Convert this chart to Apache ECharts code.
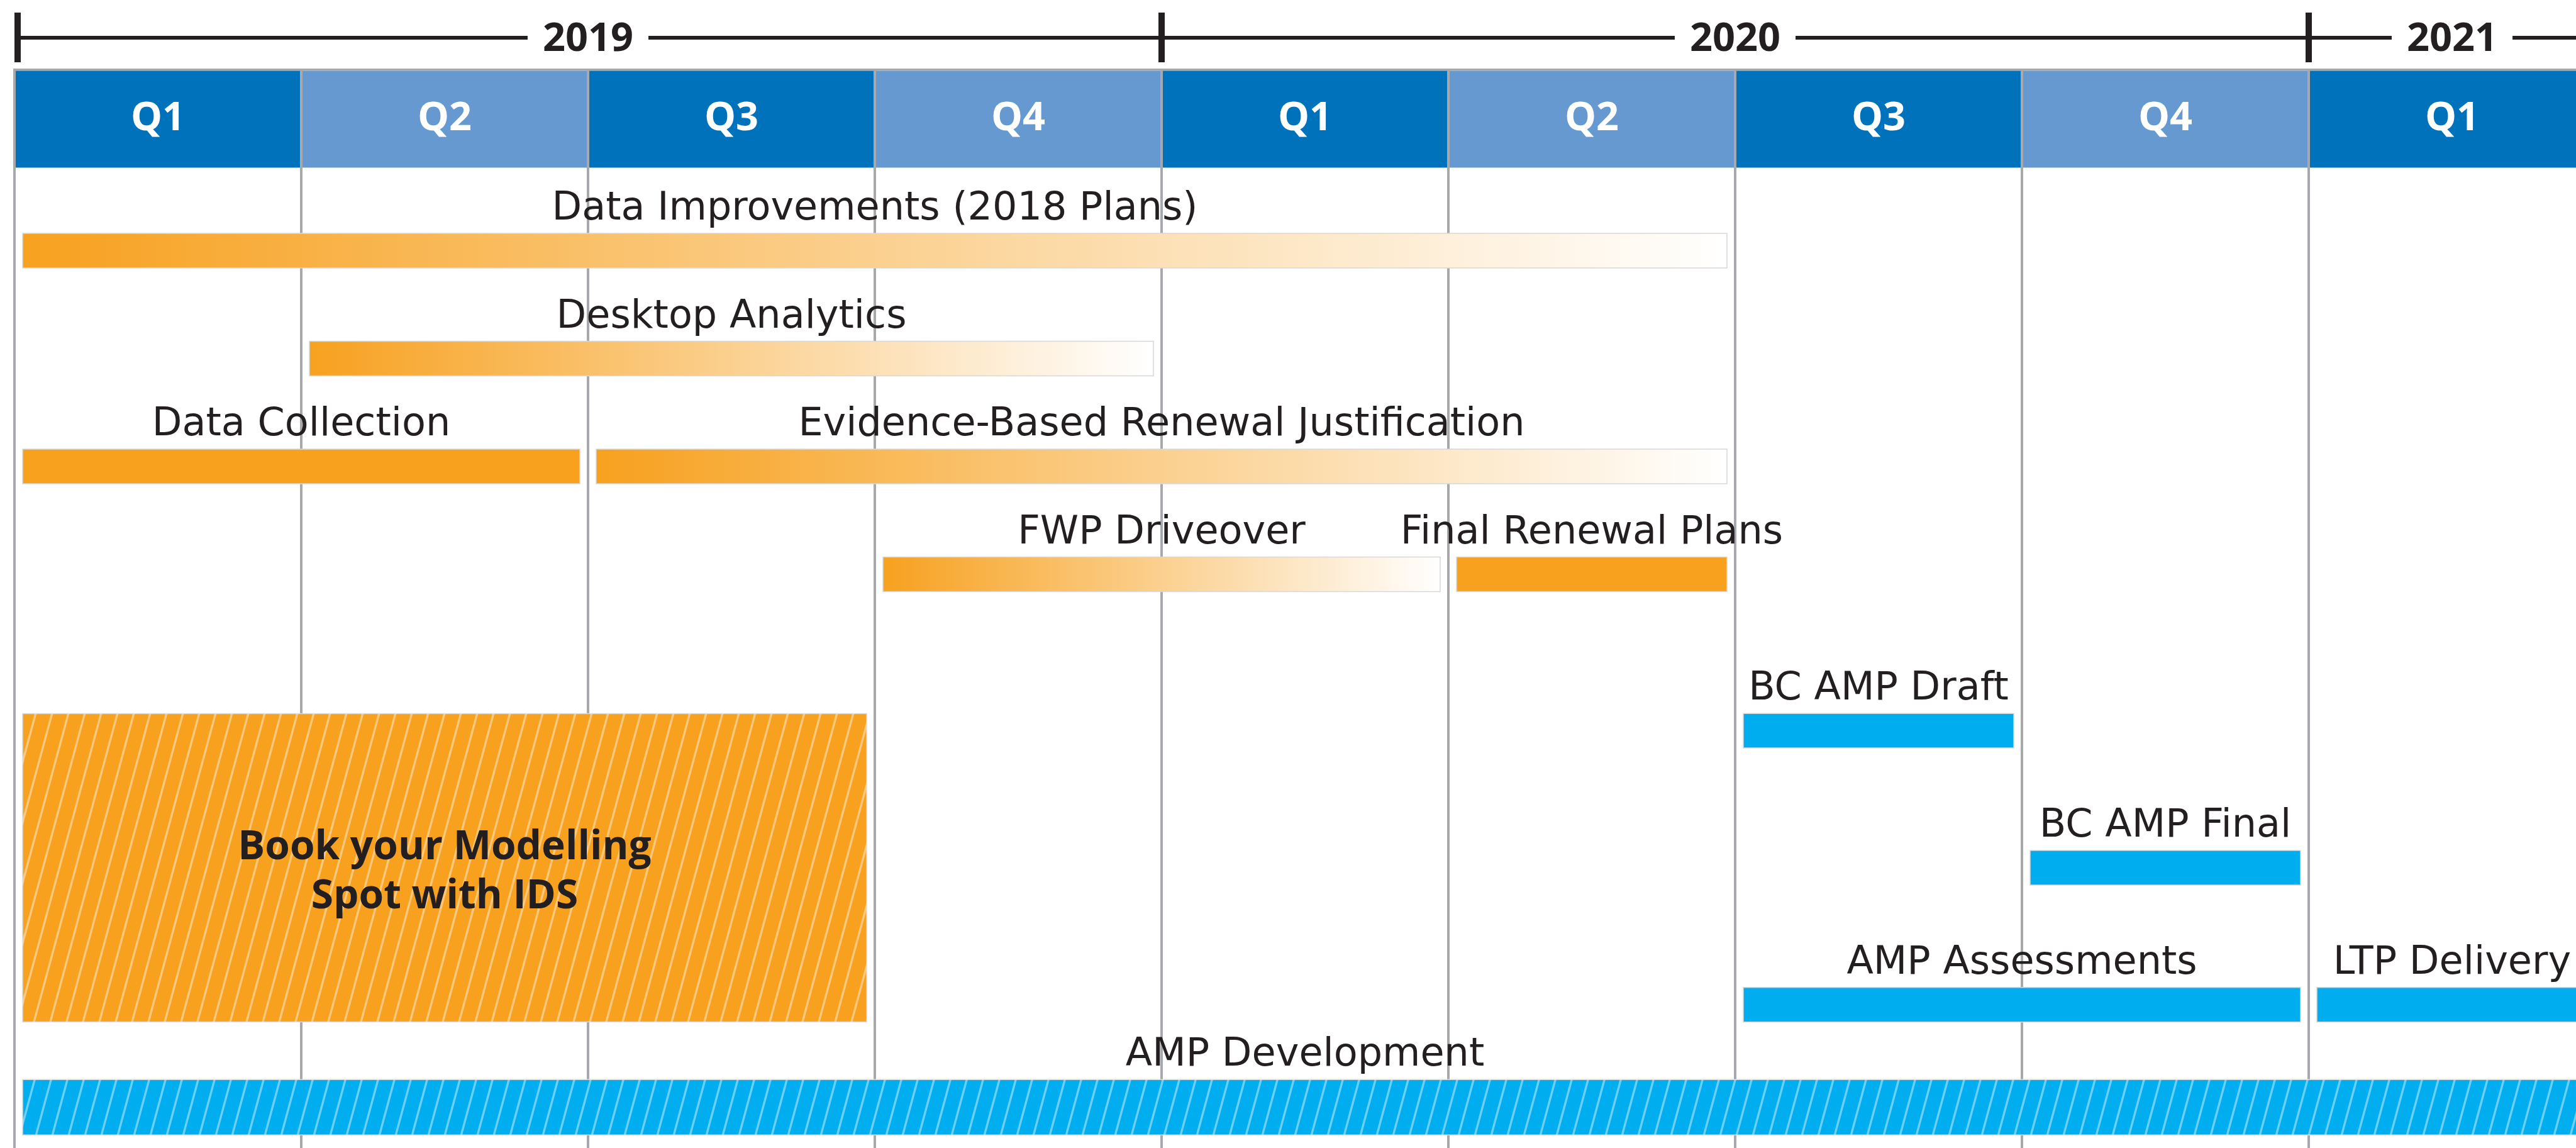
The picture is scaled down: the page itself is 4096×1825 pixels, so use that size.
<!DOCTYPE html>
<html>
<head>
<meta charset="utf-8">
<title>Roadmap</title>
<script src="https://cdn.jsdelivr.net/npm/echarts@6/dist/echarts.min.js"></script>
<style>
  html, body { margin: 0; padding: 0; background: #fff; }
  #main { width: 4096px; height: 1825px; }
</style>
</head>
<body>
<div id="main"></div>
<script>
// time axis: one unit = one quarter, 0 = start of Q1 2019
var quarters = ['Q1', 'Q2', 'Q3', 'Q4', 'Q1', 'Q2', 'Q3', 'Q4', 'Q1'];
var years = ['2019', '2020', '2021'];
var yearStart = [0, 4, 8];
var yearLabelAt = [2, 6, 8.5];

// tasks (start / end in quarters, lane = row from the top)
var taskNames = [
  'Data Improvements (2018 Plans)',
  'Desktop Analytics',
  'Data Collection',
  'Evidence-Based Renewal Justification',
  'FWP Driveover',
  'Final Renewal Plans',
  'Book your Modelling\nSpot with IDS',
  'BC AMP Draft',
  'BC AMP Final',
  'AMP Assessments',
  'LTP Delivery',
  'AMP Development'
];
var taskStart = [0, 1, 0, 2, 3, 5, 0, 6, 7, 6, 8, 0];
var taskEnd   = [6, 4, 2, 6, 5, 6, 3, 7, 8, 8, 9, 9];
var taskLane  = [0, 1, 2, 2, 3, 3, 5.72, 4.45, 5.72, 6.99, 6.99, 7.94];
var taskKind  = ['fade', 'fade', 'solid', 'fade', 'fade', 'solid', 'block', 'cyan', 'cyan', 'cyan', 'cyan', 'band'];

var ORANGE = '#F7A11F';
var CYAN = '#00AEEF';
var DEEP = '#0072BC';
var LIGHT = '#6699D0';
var INK = '#231F20';
var GREY = '#A7A9AC';
var BOLD = '"Open Sans", "Noto Sans", sans-serif';
var BOOK = '"DejaVu Sans", "Open Sans", sans-serif';

var W = 4096, H = 1825;
var LEFT = 23, QW = 456, HEAD_TOP = 109;
var LANE_PX = 171.5, LANE0_Y = 398.5;
var xMax = (W - LEFT) / QW;  // the last quarter runs off the right edge
var yMin = -(LANE0_Y - HEAD_TOP) / LANE_PX;
var yMax = (H - LANE0_Y) / LANE_PX;
var thick = { fade: 0.32, solid: 0.32, cyan: 0.32, block: 2.857, band: 0.513 };
var INSET = 13;

// diagonal stripe tile for the hatched blocks
function makeStripes() {
  var w = 26, h = 96;
  var c = document.createElement('canvas');
  c.width = w; c.height = h;
  var ctx = c.getContext('2d');
  ctx.strokeStyle = 'rgba(255,255,255,0.42)';
  ctx.lineWidth = 3.4;
  for (var k = -1; k <= 1; k++) {
    ctx.beginPath();
    ctx.moveTo(k * w - w * 0.2, h * 1.2);
    ctx.lineTo(k * w + w * 1.2, -h * 0.2);
    ctx.stroke();
  }
  return c;
}
var stripeTile = makeStripes();

function renderHead(params, api) {
  var q = api.value(0);
  var a = api.coord([q, 0])[0];
  var b = api.coord([q + 1, 0])[0];
  var top = params.coordSys.y;
  return {
    type: 'group',
    children: [
      { type: 'rect', shape: { x: a, y: top, width: b - a, height: 3.5 }, style: { fill: GREY } },
      { type: 'rect', shape: { x: a + 2, y: top + 3.5, width: b - a - 4, height: 154 },
        style: { fill: q % 2 ? LIGHT : DEEP } },
      { type: 'text', style: {
          text: quarters[q], x: (a + b) / 2, y: top + 3.5 + 77,
          align: 'center', verticalAlign: 'middle',
          font: 'bold 63px ' + BOLD, fill: '#fff' } }
    ]
  };
}

function renderYear(params, api) {
  var i = params.dataIndex;
  var s = api.coord([yearStart[i], 0])[0];
  var e = i < years.length - 1 ? api.coord([yearStart[i + 1], 0])[0] : W + 10;
  var lineY = HEAD_TOP - 49;
  var tx = Math.max(s, LEFT + 5);
  return {
    type: 'group',
    children: [
      { type: 'rect', shape: { x: s, y: lineY - 3, width: e - s, height: 6 }, style: { fill: INK } },
      { type: 'rect', shape: { x: tx - 5, y: 20, width: 10, height: 79 }, style: { fill: INK } },
      { type: 'text', style: {
          text: years[i], x: api.coord([yearLabelAt[i], 0])[0], y: lineY + 3,
          align: 'center', verticalAlign: 'middle',
          font: 'bold 63px ' + BOLD, fill: INK,
          backgroundColor: '#fff', padding: [0, 24] } }
    ]
  };
}

function renderTask(params, api) {
  var i = params.dataIndex;
  var kind = taskKind[i];
  var lane = api.value(2);
  var p0 = api.coord([api.value(0), lane]);
  var p1 = api.coord([api.value(1), lane]);
  var h = api.size([0, thick[kind]])[1];
  var x = p0[0] + INSET, w = p1[0] - p0[0] - 2 * INSET, y = p0[1] - h / 2;
  var fill;
  if (kind === 'fade') {
    fill = new echarts.graphic.LinearGradient(0, 0, 1, 0, [
      { offset: 0, color: ORANGE }, { offset: 1, color: '#FFFFFF' }
    ]);
  } else if (kind === 'solid' || kind === 'block') {
    fill = ORANGE;
  } else {
    fill = CYAN;
  }
  var kids = [
    { type: 'rect', shape: { x: x, y: y, width: w, height: h },
      style: { fill: fill, stroke: '#D7D8DA', lineWidth: 1.5 } }
  ];
  if (kind === 'block' || kind === 'band') {
    kids.push({ type: 'rect', shape: { x: x, y: y, width: w, height: h },
      style: { fill: { image: stripeTile, repeat: 'repeat' } } });
  }
  if (kind === 'block') {
    kids.push({ type: 'text', style: {
      text: taskNames[i], x: x + w / 2, y: y + h / 2 + 7,
      align: 'center', verticalAlign: 'middle', lineHeight: 78,
      font: 'bold 64px ' + BOLD, fill: INK } });
  } else {
    kids.push({ type: 'text', style: {
      text: taskNames[i], x: (p0[0] + p1[0]) / 2, y: y - 38,
      align: 'center', verticalAlign: 'middle',
      font: '62px ' + BOOK, fill: INK } });
  }
  return { type: 'group', children: kids };
}

var chart = echarts.init(document.getElementById('main'));
chart.setOption({
  animation: false,
  backgroundColor: '#fff',
  grid: { left: LEFT, top: HEAD_TOP, right: 0, bottom: 0 },
  xAxis: {
    type: 'value', min: 0, max: xMax, interval: 1,
    axisLine: { show: false }, axisTick: { show: false }, axisLabel: { show: false },
    splitLine: { show: true, showMaxLine: false, lineStyle: { color: GREY, width: 4 } }
  },
  yAxis: { type: 'value', inverse: true, min: yMin, max: yMax, show: false },
  series: [
    { type: 'custom', renderItem: renderHead, clip: false,
      data: quarters.map(function (q, i) { return [i]; }), encode: { x: 0 } },
    { type: 'custom', renderItem: renderYear, clip: false,
      data: years.map(function (y, i) { return [yearStart[i]]; }), encode: { x: 0 } },
    { type: 'custom', renderItem: renderTask, clip: false,
      data: taskStart.map(function (s, i) { return [s, taskEnd[i], taskLane[i]]; }),
      encode: { x: [0, 1], y: 2 } }
  ]
});
window.addEventListener('resize', chart.resize);
</script>
</body>
</html>
